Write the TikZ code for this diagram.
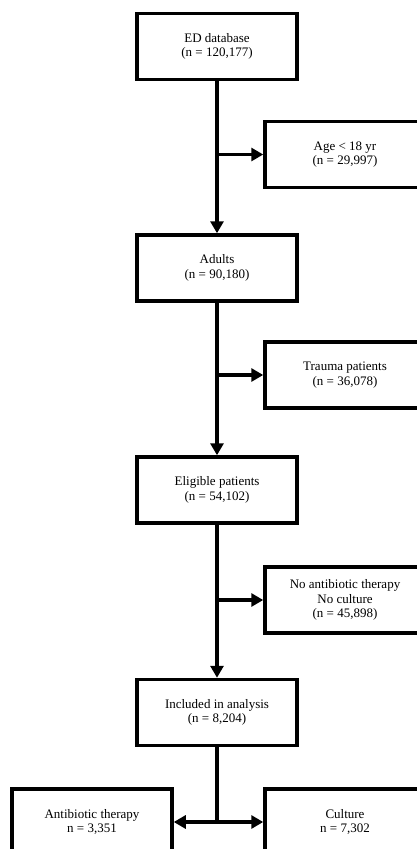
\documentclass[tikz,border=0pt]{standalone}
\usepackage{fontspec}
\setmainfont{Liberation Serif}
\usetikzlibrary{arrows.meta}
\begin{document}
\begin{tikzpicture}[x=1pt,y=-1pt,
  box/.style={draw=black, line width=3.5pt, fill=white, minimum width=160pt, minimum height=66pt, align=center, inner sep=2pt, font=\fontsize{13}{14.5}\selectfont},
  conn/.style={line width=3.5pt},
  arr/.style={conn, -{Triangle[length=12pt,width=13pt]}}]
\useasboundingbox (0,0) rectangle (417,849);
\clip (0,0) rectangle (417,849);
\fill[white] (0,0) rectangle (417,849);
\node[box] (ed) at (217,46.5) {ED database\\(n = 120,177)};
\node[box] (age) at (345,154.5) {Age < 18 yr\\(n = 29,997)};
\node[box] (adults) at (217,268) {Adults\\(n = 90,180)};
\node[box] (trauma) at (345,375) {Trauma patients\\(n = 36,078)};
\node[box] (elig) at (217,490) {Eligible patients\\(n = 54,102)};
\node[box] (noab) at (345,600) {No antibiotic therapy\\No culture\\(n = 45,898)};
\node[box] (inc) at (217,712.5) {Included in analysis\\(n = 8,204)};
\node[box] (abx) at (92,822) {Antibiotic therapy\\n = 3,351};
\node[box] (cul) at (345,822) {Culture\\n = 7,302};
\draw[arr] (ed.south) -- (adults.north);
\draw[arr] (ed.south |- age.west) -- (age.west);
\draw[arr] (adults.south) -- (elig.north);
\draw[arr] (adults.south |- trauma.west) -- (trauma.west);
\draw[arr] (elig.south) -- (inc.north);
\draw[arr] (elig.south |- noab.west) -- (noab.west);
\coordinate (j) at (inc.south |- abx.east);
\draw[conn] (inc.south) -- (j);
\draw[arr] (j) -- (abx.east);
\draw[arr] (j) -- (cul.west);
\end{tikzpicture}
\end{document}
